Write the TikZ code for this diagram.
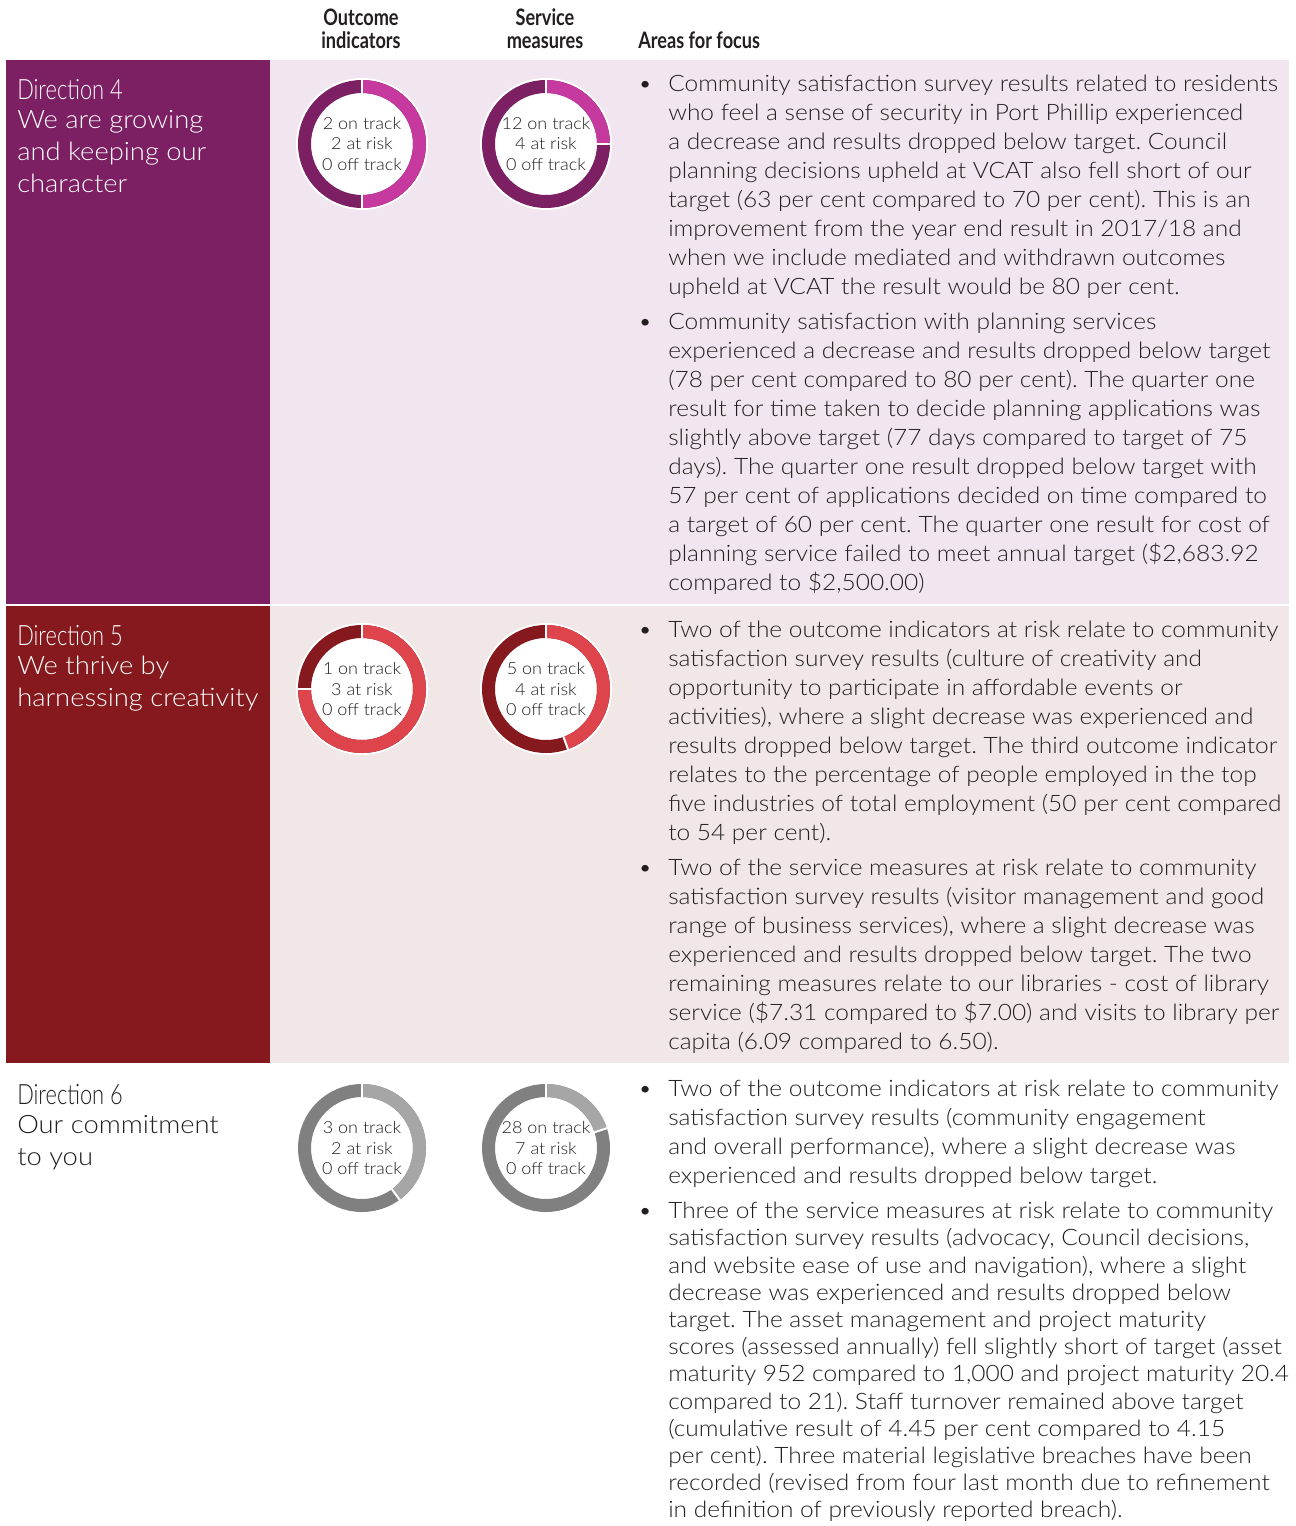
\documentclass[tikz,border=0pt]{standalone}
\usepackage{fontspec}
\setmainfont{Lato Light}[FakeStretch=1.08]
\newfontfamily\condfont{Lato Light}[FakeStretch=0.78]
\newfontfamily\condbold{Lato}[FakeStretch=0.8]
\usepackage{tikz}
\usepackage{xcolor}

\definecolor{ink}{RGB}{35,31,32}
\definecolor{fourdark}{RGB}{124,31,99}
\definecolor{fourlight}{RGB}{198,58,160}
\definecolor{fourband}{RGB}{241,230,239}
\definecolor{fivedark}{RGB}{133,25,29}
\definecolor{fivelight}{RGB}{221,68,75}
\definecolor{fiveband}{RGB}{241,231,231}
\definecolor{sixdark}{RGB}{128,128,128}
\definecolor{sixlight}{RGB}{166,166,166}

\tikzset{
  body/.style={anchor=north west, inner sep=0pt, align=left, text=ink, font=\fontsize{17}{21.7}\selectfont},
  dirhead/.style={anchor=north west, inner sep=0pt, align=left, font=\condfont\fontsize{21}{24}\selectfont},
  dirname/.style={anchor=north west, inner sep=0pt, align=left, font=\fontsize{19}{24}\selectfont},
  colhead/.style={inner sep=0pt, align=center, text=ink, font=\condbold\bfseries\fontsize{17}{17.5}\selectfont},
  donutlabel/.style={inner sep=0pt, align=center, text=ink, font=\fontsize{12.5}{15.5}\selectfont},
}
\newcommand{\bul}{\llap{\textbullet\hskip 12pt}}
\frenchspacing

\begin{document}
\begin{tikzpicture}[x=0.75pt, y=0.75pt]

    \useasboundingbox (0,0) rectangle (1295,-1526);
    \fill[white] (0,0) rectangle (1295,-1526);

    % row backgrounds
    \fill[fourband] (270,-60) rectangle (1289,-604);
    \fill[fourdark] (6,-60) rectangle (270,-604);
    \fill[fiveband] (270,-606) rectangle (1289,-1063);
    \fill[fivedark] (6,-606) rectangle (270,-1063);

    % column headings
    \node[colhead] (outhead) at (361,-28.5) {Outcome\\indicators};
    \node[colhead] (svchead) at (545,-28.5) {Service\\measures};
    \node[colhead, anchor=west] (areahead) at (638,-40) {Areas for focus};

    % directions
    \node[dirhead, text=white] (d4head) at (17,-79) {Direction 4};
    \node[dirname, text=white] (d4name) at (17,-110) {We are growing\\and keeping our\\character};
    \node[dirhead, text=white] (d5head) at (17,-625) {Direction 5};
    \node[dirname, text=white] (d5name) at (17,-656) {We thrive by\\harnessing creativity};
    \node[dirhead, text=ink] (d6head) at (17,-1084) {Direction 6};
    \node[dirname, text=ink] (d6name) at (17,-1115) {Our commitment\\to you};

    % donuts: light part = at risk, clockwise from the top
    \foreach \nm/\cx/\cy/\on/\risk/\lt/\dk in {d4o/362/144/2/2/fourlight/fourdark, d4s/546/144/12/4/fourlight/fourdark, d5o/362/689/1/3/fivelight/fivedark, d5s/546/689/5/4/fivelight/fivedark, d6o/362/1148/3/2/sixlight/sixdark, d6s/546/1148/28/7/sixlight/sixdark}{
        \pgfmathsetmacro\ang{90-360*\risk/(\on+\risk)}
        \fill[white] (\cx,-\cy) circle (66);
        \draw[\dk, line width=9.75pt] (\cx,-\cy) circle (57.5);
        \draw[\lt, line width=9.75pt] (\cx,-\cy) ++(90:57.5) arc (90:\ang:57.5);
        \draw[white, line width=1.5pt] (\cx,-\cy) ++(90:50) -- ++(90:16);
        \draw[white, line width=1.5pt] (\cx,-\cy) ++(\ang:50) -- ++(\ang:16);
        \node[donutlabel] (\nm) at (\cx,-\cy) {\on{} on track\\\risk{} at risk\\0 off track};
    }

    % areas for focus
    \node[body] (d4a) at (668,-75) {\bul Community satisfaction survey results related to residents\\who feel a sense of security in Port Phillip experienced\\a decrease and results dropped below target. Council\\planning decisions upheld at VCAT also fell short of our\\target (63 per cent compared to 70 per cent). This is an\\improvement from the year end result in 2017/18 and\\when we include mediated and withdrawn outcomes\\upheld at VCAT the result would be 80 per cent.};
    \node[body] (d4b) at (668,-313) {\bul Community satisfaction with planning services\\experienced a decrease and results dropped below target\\(78 per cent compared to 80 per cent). The quarter one\\result for time taken to decide planning applications was\\slightly above target (77 days compared to target of 75\\days). The quarter one result dropped below target with\\57 per cent of applications decided on time compared to\\a target of 60 per cent. The quarter one result for cost of\\planning service failed to meet annual target (\$2,683.92\\compared to \$2,500.00)};

    \node[body] (d5a) at (668,-621) {\bul Two of the outcome indicators at risk relate to community\\satisfaction survey results (culture of creativity and\\opportunity to participate in affordable events or\\activities), where a slight decrease was experienced and\\results dropped below target. The third outcome indicator\\relates to the percentage of people employed in the top\\five industries of total employment (50 per cent compared\\to 54 per cent).};
    \node[body] (d5b) at (668,-859) {\bul Two of the service measures at risk relate to community\\satisfaction survey results (visitor management and good\\range of business services), where a slight decrease was\\experienced and results dropped below target. The two\\remaining measures relate to our libraries - cost of library\\service (\$7.31 compared to \$7.00) and visits to library per\\capita (6.09 compared to 6.50).};

    \node[body] (d6a) at (668,-1080) {\bul Two of the outcome indicators at risk relate to community\\satisfaction survey results (community engagement\\and overall performance), where a slight decrease was\\experienced and results dropped below target.};
    \node[body, font=\fontsize{17}{20.4}\selectfont] (d6b) at (668,-1202) {\bul Three of the service measures at risk relate to community\\satisfaction survey results (advocacy, Council decisions,\\and website ease of use and navigation), where a slight\\decrease was experienced and results dropped below\\target. The asset management and project maturity\\scores (assessed annually) fell slightly short of target (asset\\maturity 952 compared to 1,000 and project maturity 20.4\\compared to 21). Staff turnover remained above target\\(cumulative result of 4.45 per cent compared to 4.15\\per cent). Three material legislative breaches have been\\recorded (revised from four last month due to refinement\\in definition of previously reported breach).};

\end{tikzpicture}
\end{document}
